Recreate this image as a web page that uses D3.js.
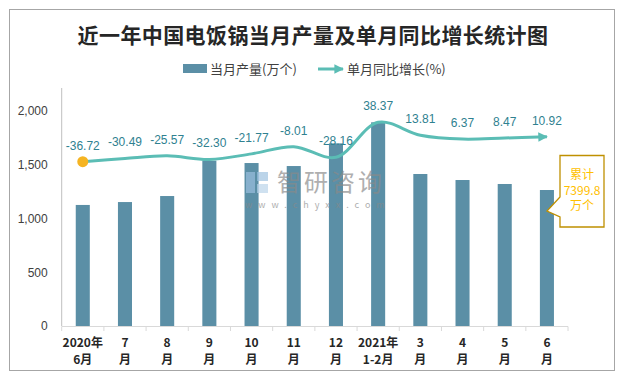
<!DOCTYPE html>
<html><head><meta charset="utf-8">
<script src="https://cdn.jsdelivr.net/npm/d3@7/dist/d3.min.js"></script>
<style>
html,body{margin:0;padding:0;background:#fff;}
svg{display:block;font-family:"Noto Sans CJK SC","Noto Sans",sans-serif;}
</style></head>
<body>
<svg id="chart" width="628" height="379"></svg>
<script>
const categoriesTop = ["2020年","7","8","9","10","11","12","2021年","3","4","5","6"];
const categoriesBottom = ["6月","月","月","月","月","月","月","1-2月","月","月","月","月"];
const production = [1126,1153,1209,1538,1516,1488,1699,1895,1414,1358,1321,1265];
const growth = [-36.72,-30.49,-25.57,-32.30,-21.77,-8.01,-28.16,38.37,13.81,6.37,8.47,10.92];
const yTicks = [0,500,1000,1500,2000];
const titleText = "近一年中国电饭锅当月产量及单月同比增长统计图";
const legendBar = "当月产量(万个)";
const legendLine = "单月同比增长(%)";
const noteLines = ["累计","7399.8","万个"];

const barColor = "#5b8fa6", lineColor = "#5bbdb5", markColor = "#f5b422";
const labelColor = "#2f8190";

const svg = d3.select("#chart");
const idx = d3.range(categoriesTop.length);

// border
svg.append("rect").attr("x",9.5).attr("y",9.5).attr("width",605).attr("height",361)
  .attr("fill","#fff").attr("stroke","#a6a6a6").attr("stroke-width",1);

// title
svg.append("text").attr("x",313).attr("y",43).attr("text-anchor","middle")
  .attr("font-size",21).attr("font-weight","bold").attr("letter-spacing",0.4)
  .attr("fill","#262626").text(titleText);

// scales
const x = d3.scaleBand().domain(idx).range([61.7,568]).paddingInner(0.667).paddingOuter(0.333);
const y = d3.scaleLinear().domain([0,2000]).range([326,111]);
const y2 = d3.scaleLinear().domain([-350,60]).range([326,111]);
const cx = i => x(i) + x.bandwidth()/2;

// bars
svg.append("g").selectAll("rect").data(production).join("rect")
  .attr("x",(d,i)=>x(i)).attr("width",x.bandwidth())
  .attr("y",d=>y(d)).attr("height",d=>y(0)-y(d)).attr("fill",barColor);

// watermark (over bars, translucent)
const wm = svg.append("g").attr("opacity",0.68);
wm.append("rect").attr("x",246).attr("y",172).attr("width",9).attr("height",21).attr("fill","#9cc0e0");
wm.append("rect").attr("x",257).attr("y",172).attr("width",11).attr("height",9).attr("fill","#9cc0e0");
wm.append("rect").attr("x",257).attr("y",184).attr("width",11).attr("height",9).attr("fill","#b9d3ea");
wm.append("text").attr("x",277).attr("y",191).attr("font-size",24).attr("letter-spacing",3)
  .attr("fill","#8a8a8a").text("智研咨询");
wm.append("text").attr("x",245).attr("y",208).attr("font-size",9).attr("letter-spacing",6)
  .attr("fill","#8a8a8a").text("www.chyxx.com");

// axes
const yAxis = svg.append("g").attr("transform","translate(61.7,0)")
  .call(d3.axisLeft(y).tickValues(yTicks).tickFormat(d3.format(",")).tickSize(0).tickPadding(14));
yAxis.select(".domain").remove();
yAxis.selectAll("text").attr("font-size",12).attr("fill","#404040")
  .attr("font-family","'Liberation Sans',Arial,sans-serif");
svg.append("line").attr("x1",61.7).attr("x2",61.7).attr("y1",88).attr("y2",326)
  .attr("stroke","#bfbfbf");

svg.append("line").attr("x1",61.7).attr("x2",568).attr("y1",326.5).attr("y2",326.5).attr("stroke","#d9d9d9");
const step = x.step();
svg.append("g").selectAll("line").data(d3.range(categoriesTop.length+1)).join("line")
  .attr("x1",i=>61.7+i*step).attr("x2",i=>61.7+i*step)
  .attr("y1",326.5).attr("y2",331).attr("stroke","#d9d9d9");

const xl = svg.append("g").attr("font-size",12).attr("font-weight","bold").attr("fill","#262626")
  .attr("text-anchor","middle");
xl.selectAll("text.t").data(categoriesTop).join("text").attr("class","t")
  .attr("x",(d,i)=>cx(i)).attr("y",347).text(d=>d);
xl.selectAll("text.b").data(categoriesBottom).join("text").attr("class","b")
  .attr("x",(d,i)=>cx(i)).attr("y",364).text(d=>d);

// arrow marker
const defs = svg.append("defs");
defs.append("marker").attr("id","arr").attr("viewBox","0 0 10 10").attr("refX",9).attr("refY",5)
  .attr("markerWidth",3.2).attr("markerHeight",3.2).attr("orient","auto").attr("markerUnits","strokeWidth")
  .append("path").attr("d","M0,0 L10,5 L0,10 Z").attr("fill",lineColor);

// line
const line = d3.line().x((d,i)=>cx(i)).y(d=>y2(d)).curve(d3.curveCatmullRom.alpha(0.5));
svg.append("path").datum(growth).attr("d",line).attr("fill","none")
  .attr("stroke",lineColor).attr("stroke-width",3).attr("marker-end","url(#arr)");
svg.append("circle").attr("cx",cx(0)).attr("cy",y2(growth[0])).attr("r",5.5).attr("fill",markColor);

// labels
svg.append("g").selectAll("text").data(growth).join("text")
  .attr("x",(d,i)=>cx(i)).attr("y",d=>y2(d)-12).attr("text-anchor","middle")
  .attr("font-size",12).attr("fill",labelColor)
  .attr("font-family","'Liberation Sans',Arial,sans-serif")
  .text(d=>d.toFixed(2));

// legend
svg.append("rect").attr("x",183).attr("y",64).attr("width",24).attr("height",9).attr("fill",barColor);
svg.append("text").attr("x",210).attr("y",73.5).attr("font-size",13).attr("fill","#404040").text(legendBar);
svg.append("line").attr("x1",318).attr("x2",343).attr("y1",69).attr("y2",69)
  .attr("stroke",lineColor).attr("stroke-width",3).attr("marker-end","url(#arr)");
svg.append("text").attr("x",347).attr("y",73.5).attr("font-size",13).attr("fill","#404040").text(legendLine);

// callout
svg.append("path").attr("d","M560,155.5 H604 V227 H560 V217 L547,211 L560,197 Z")
  .attr("fill","#fff").attr("stroke","#bf9000").attr("stroke-width",1.3);
svg.append("g").attr("text-anchor","middle").attr("font-size",12).attr("fill","#ffc000")
  .selectAll("text").data(noteLines).join("text")
  .attr("x",582).attr("y",(d,i)=>179+i*15.5).text(d=>d);
</script>
</body></html>
